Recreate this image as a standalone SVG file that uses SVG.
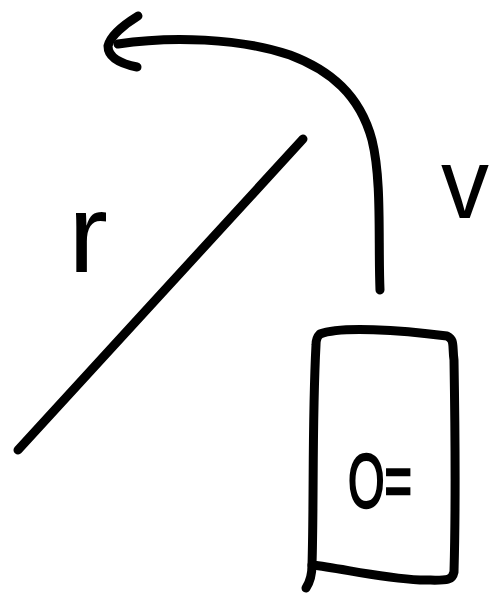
<svg xmlns="http://www.w3.org/2000/svg" width="494" height="596" viewBox="0 0 494 596">
<style>
.s{fill:none;stroke:#000;stroke-width:9;stroke-linecap:round;stroke-linejoin:round}
.t{font-family:"Liberation Sans",Arial,sans-serif;fill:#000}
</style>
<rect width="494" height="596" fill="#fff"/>
<g id="connectors">
<path class="s" d="M380,290 C378,240 382,180 372,140 C360,95 330,70 290,55 C240,38 170,36 118,44"/>
<path class="s" d="M138,16 C125,24 110,36 108,46 C108,58 122,64 137,67"/>
<path class="s" d="M18,450 L303,139"/>
</g>
<g id="label-r"><text class="t" x="68" y="272" font-size="112" textLength="40" lengthAdjust="spacingAndGlyphs">r</text></g>
<g id="label-v"><text class="t" x="441" y="218" font-size="100" textLength="48" lengthAdjust="spacingAndGlyphs">v</text></g>
<g id="phone">
<path class="s" d="M320,334 C340,326 400,330 447,336 C455,340 452,345 454,360 C455,420 456,500 454,572 C452,582 445,580 420,580 C380,578 340,568 312,565 C314,500 312,420 316,345 C316,338 318,336 320,334 Z"/>
<path class="s" d="M312,565 C312,575 310,582 306,588"/>
<text class="t" x="348" y="507" font-size="76" textLength="64" lengthAdjust="spacingAndGlyphs" stroke="#000" stroke-width="2.5">O=</text>
</g>
</svg>
